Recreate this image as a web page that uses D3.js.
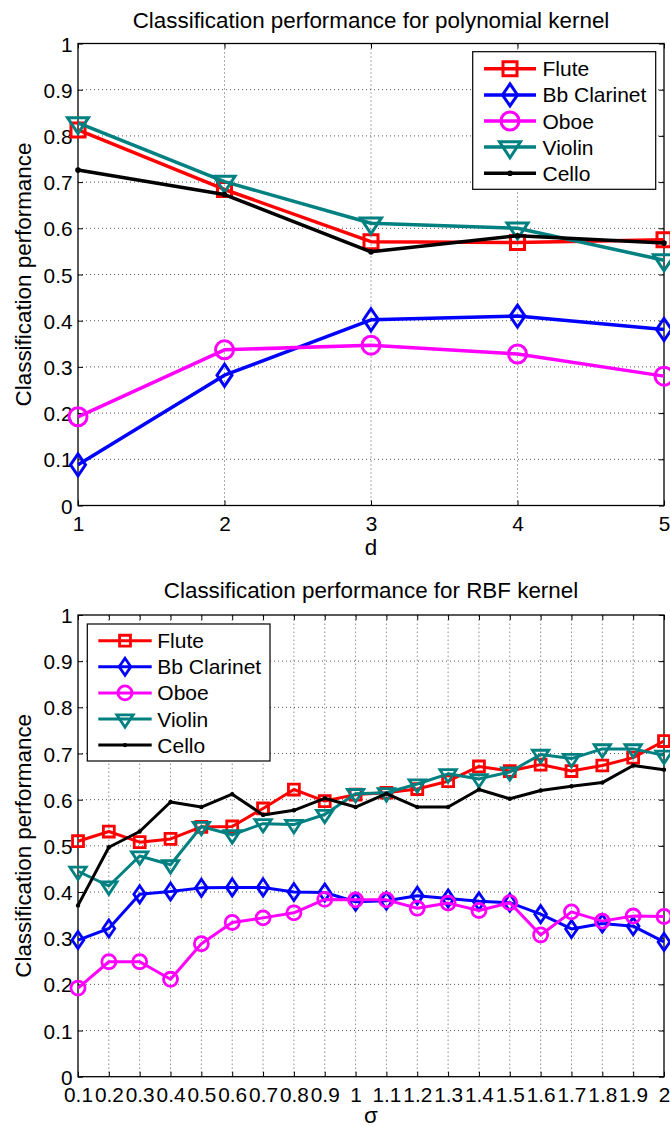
<!DOCTYPE html>
<html>
<head>
<meta charset="utf-8">
<script src="https://cdn.jsdelivr.net/npm/d3@7"></script>
<style>
  html, body { margin: 0; padding: 0; background: #fff; }
  svg { display: block; }
  text { font-family: "Liberation Sans", Arial, Helvetica, sans-serif; fill: #000; }
</style>
</head>
<body>
<script>
// ---- Polynomial kernel: performance vs degree d ----
const polyD = [1, 2, 3, 4, 5];
const polyDLabels = ["1", "2", "3", "4", "5"];
const polyFlute    = [0.813, 0.684, 0.571, 0.569, 0.575];
const polyClarinet = [0.088, 0.282, 0.402, 0.410, 0.381];
const polyOboe     = [0.192, 0.337, 0.347, 0.328, 0.280];
const polyViolin   = [0.828, 0.701, 0.611, 0.600, 0.531];
const polyCello    = [0.726, 0.673, 0.549, 0.584, 0.568];

// ---- RBF kernel: performance vs sigma ----
const rbfSigma = [0.1, 0.2, 0.3, 0.4, 0.5, 0.6, 0.7, 0.8, 0.9, 1.0,
                  1.1, 1.2, 1.3, 1.4, 1.5, 1.6, 1.7, 1.8, 1.9, 2.0];
const rbfSigmaLabels = ["0.1", "0.2", "0.3", "0.4", "0.5", "0.6", "0.7", "0.8", "0.9", "1",
                        "1.1", "1.2", "1.3", "1.4", "1.5", "1.6", "1.7", "1.8", "1.9", "2"];
const rbfFlute    = [0.510, 0.531, 0.508, 0.515, 0.541, 0.542, 0.581, 0.622, 0.597, 0.611,
                     0.615, 0.623, 0.640, 0.672, 0.662, 0.676, 0.662, 0.674, 0.691, 0.727];
const rbfClarinet = [0.296, 0.321, 0.395, 0.401, 0.409, 0.410, 0.410, 0.400, 0.399, 0.379,
                     0.381, 0.392, 0.386, 0.380, 0.377, 0.352, 0.320, 0.332, 0.326, 0.292];
const rbfOboe     = [0.192, 0.249, 0.249, 0.211, 0.288, 0.334, 0.344, 0.355, 0.384, 0.383,
                     0.383, 0.365, 0.376, 0.360, 0.377, 0.307, 0.357, 0.337, 0.348, 0.347];
const rbfViolin   = [0.445, 0.413, 0.478, 0.459, 0.542, 0.524, 0.548, 0.546, 0.568, 0.613,
                     0.615, 0.634, 0.656, 0.645, 0.660, 0.698, 0.689, 0.710, 0.710, 0.696];
const rbfCello    = [0.371, 0.497, 0.531, 0.595, 0.584, 0.612, 0.567, 0.577, 0.603, 0.584,
                     0.613, 0.584, 0.584, 0.622, 0.602, 0.620, 0.629, 0.637, 0.674, 0.665];

const yTicks = [0, 0.1, 0.2, 0.3, 0.4, 0.5, 0.6, 0.7, 0.8, 0.9, 1];
const yTickLabels = ["0", "0.1", "0.2", "0.3", "0.4", "0.5", "0.6", "0.7", "0.8", "0.9", "1"];

const instruments = ["Flute", "Bb Clarinet", "Oboe", "Violin", "Cello"];
const colors  = ["#ff0000", "#0000ff", "#ff00ff", "#008080", "#000000"];
const markers = ["square", "diamond", "circle", "triangle", "dot"];

const W = 670, H = 1126;
const svg = d3.select("body").append("svg").attr("width", W).attr("height", H);
svg.append("rect").attr("width", W).attr("height", H).attr("fill", "#fff");

function markerPath(type, s) {
  // s scales the marker size
  switch (type) {
    case "square": { const h = 7 * s; return `M${-h},${-h}H${h}V${h}H${-h}Z`; }
    case "diamond": { const hw = 7.5 * s, hh = 11 * s; return `M0,${-hh}L${hw},0L0,${hh}L${-hw},0Z`; }
    case "circle": { const r = 9 * s; return `M${r},0A${r},${r} 0 1,1 ${-r},0A${r},${r} 0 1,1 ${r},0Z`; }
    case "triangle": { const w = 10.5 * s, h = 16 * s; return `M${-w},${-h / 3}L${w},${-h / 3}L0,${2 * h / 3}Z`; }
    case "dot": { const r = 2.8 * s; return `M${r},0A${r},${r} 0 1,1 ${-r},0A${r},${r} 0 1,1 ${r},0Z`; }
  }
}

function drawMarker(g, type, color, s, x, y, sw) {
  const p = g.append("path").attr("transform", `translate(${x},${y})`).attr("d", markerPath(type, s));
  if (type === "dot") p.attr("fill", color).attr("stroke", "none");
  else p.attr("fill", "none").attr("stroke", color).attr("stroke-width", sw);
}

function drawPanel(cfg) {
  const g = svg.append("g");
  const x = d3.scaleLinear().domain(cfg.xDomain).range([78, 664]);
  const y = d3.scaleLinear().domain([0, 1]).range(cfg.yRange);
  const [x0, x1] = x.range();
  const [yb, yt] = y.range();

  // dotted grid
  const grid = g.append("g").attr("stroke", "#555").attr("stroke-width", 1).attr("stroke-dasharray", "1,3");
  cfg.xs.slice(1, -1).forEach(v => {
    grid.append("line").attr("x1", x(v)).attr("x2", x(v)).attr("y1", yb).attr("y2", yt);
  });
  yTicks.slice(1, -1).forEach(v => {
    grid.append("line").attr("x1", x0).attr("x2", x1).attr("y1", y(v)).attr("y2", y(v));
  });

  // axes with inward ticks
  const fs = "20.8px";
  const ax = g.append("g").attr("transform", `translate(0,${yb})`)
    .call(d3.axisBottom(x).tickValues(cfg.xs).tickFormat((d, i) => cfg.xLabels[i])
      .tickSizeInner(-5).tickSizeOuter(0).tickPadding(11));
  const ay = g.append("g").attr("transform", `translate(${x0},0)`)
    .call(d3.axisLeft(y).tickValues(yTicks).tickFormat((d, i) => yTickLabels[i])
      .tickSizeInner(-5).tickSizeOuter(0).tickPadding(5.5));
  const at = g.append("g").attr("transform", `translate(0,${yt})`)
    .call(d3.axisTop(x).tickValues(cfg.xs).tickFormat("").tickSizeInner(-5).tickSizeOuter(0));
  const ar = g.append("g").attr("transform", `translate(${x1},0)`)
    .call(d3.axisRight(y).tickValues(yTicks).tickFormat("").tickSizeInner(-5).tickSizeOuter(0));
  [ax, ay, at, ar].forEach(a => {
    a.select(".domain").remove();
    a.selectAll(".tick line").attr("stroke", "#000").attr("stroke-width", 1);
    a.selectAll(".tick text").attr("font-size", fs).attr("font-family", null).attr("fill", "#000");
  });
  ay.selectAll(".tick text").attr("dy", "0.36em");

  g.append("rect").attr("x", x0).attr("y", yt).attr("width", x1 - x0).attr("height", yb - yt)
    .attr("fill", "none").attr("stroke", "#000").attr("stroke-width", 1.3);

  // series
  const line = d3.line().x(d => x(d[0])).y(d => y(d[1]));
  cfg.series.forEach((vals, k) => {
    const pts = cfg.xs.map((v, i) => [v, vals[i]]);
    g.append("path").attr("d", line(pts)).attr("fill", "none")
      .attr("stroke", colors[k]).attr("stroke-width", cfg.lw).attr("stroke-linejoin", "round");
    pts.forEach(p => drawMarker(g, markers[k], colors[k], cfg.ms, x(p[0]), y(p[1]), cfg.msw));
  });

  // legend
  const L = cfg.legend;
  const lg = g.append("g");
  lg.append("rect").attr("x", L.x).attr("y", L.y).attr("width", L.w).attr("height", L.h)
    .attr("fill", "#fff").attr("stroke", "#000").attr("stroke-width", 1.2);
  instruments.forEach((name, k) => {
    const cy = L.y0 + k * L.dy;
    lg.append("line").attr("x1", L.lx1).attr("x2", L.lx2).attr("y1", cy).attr("y2", cy)
      .attr("stroke", colors[k]).attr("stroke-width", cfg.lw);
    drawMarker(lg, markers[k], colors[k], cfg.ms, (L.lx1 + L.lx2) / 2, cy, cfg.msw);
    lg.append("text").attr("x", L.tx).attr("y", cy).attr("dy", "0.36em")
      .attr("font-size", "21px").text(name);
  });

  // title and axis labels
  const cx = (x0 + x1) / 2;
  g.append("text").attr("x", cx).attr("y", cfg.titleY).attr("text-anchor", "middle")
    .attr("font-size", "22.4px").text(cfg.title);
  g.append("text").attr("x", cx).attr("y", yb + cfg.xTitleDy).attr("text-anchor", "middle")
    .attr("font-size", "22.4px").text(cfg.xTitle);
  g.append("text").attr("transform", `translate(30.7,${(yt + yb) / 2}) rotate(-90)`)
    .attr("text-anchor", "middle").attr("font-size", "22.4px").text("Classification performance");
}

drawPanel({
  xDomain: [1, 5], yRange: [505.5, 43.5],
  xs: polyD, xLabels: polyDLabels,
  series: [polyFlute, polyClarinet, polyOboe, polyViolin, polyCello],
  lw: 3.5, ms: 1.0, msw: 3,
  legend: { x: 472.7, y: 51.7, w: 183, h: 137.6, y0: 68.8, dy: 26.1, lx1: 484, lx2: 536, tx: 542.5 },
  title: "Classification performance for polynomial kernel", titleY: 28.3, xTitle: "d", xTitleDy: 49.5
});

drawPanel({
  xDomain: [0.1, 2.0], yRange: [1076.7, 615],
  xs: rbfSigma, xLabels: rbfSigmaLabels,
  series: [rbfFlute, rbfClarinet, rbfOboe, rbfViolin, rbfCello],
  lw: 3, ms: 0.78, msw: 2.8,
  legend: { x: 87.3, y: 624, w: 182.7, h: 137, y0: 640.7, dy: 26.1, lx1: 98.3, lx2: 151.7, tx: 157.3 },
  title: "Classification performance for RBF kernel", titleY: 598.3, xTitle: "σ", xTitleDy: 46.5
});
</script>
</body>
</html>
